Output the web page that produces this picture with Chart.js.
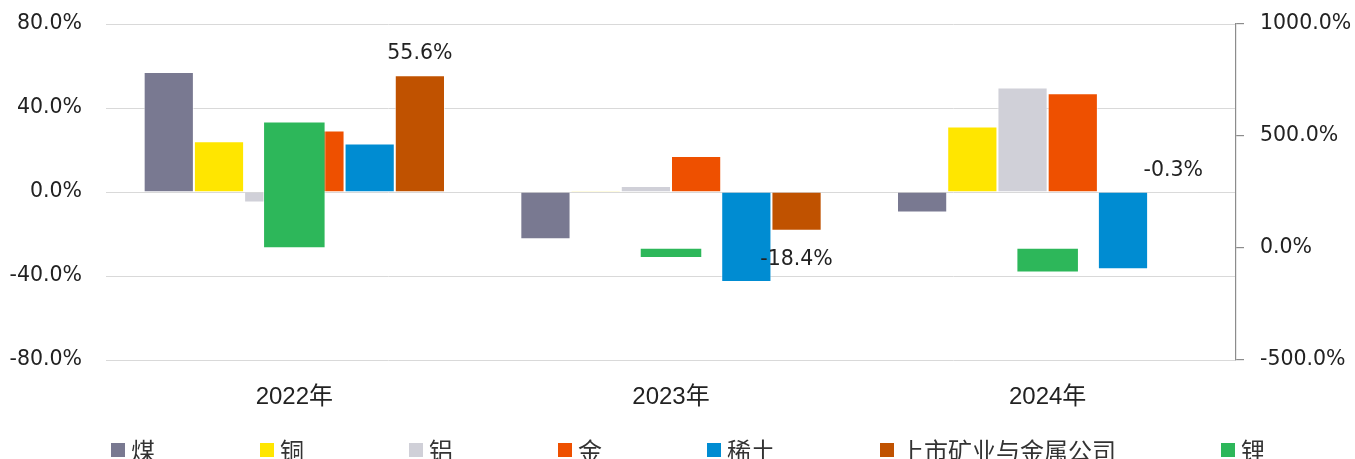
<!DOCTYPE html>
<html>
<head>
<meta charset="utf-8">
<script src="https://cdn.jsdelivr.net/npm/chart.js@4.4.1/dist/chart.umd.min.js"></script>
<style>
  body { margin: 0; background: #fff; }
  #wrap { position: relative; width: 1355px; height: 459px; overflow: hidden; }
  #legend { position: absolute; left: 111px; top: 437px; width: 1400px; display: flex; align-items: center;
            font-family: "Noto Sans CJK SC", sans-serif; font-size: 24px; color: #333; line-height: 26px; }
  #legend .item { display: flex; align-items: center; flex-shrink: 0; margin-right: 105px; white-space: nowrap; }
  #legend .box { width: 14px; height: 14px; margin-right: 6px; flex-shrink: 0; }
</style>
</head>
<body>
<div id="wrap">
  <canvas id="myChart" width="1355" height="459"></canvas>
  <div id="legend"></div>
</div>
<script>
// Categories
var years = ['2022年', '2023年', '2024年'];

// Series (percent) - left axis
var coal = [57.2, -22.5, -9.8];
var copper = [24.2, 0.5, 31.2];
var aluminum = [-5.0, 2.9, 49.8];
var gold = [29.3, 17.1, 47.0];
var rareEarth = [23.1, -42.9, -36.8];
var miners = [55.6, -18.4, -0.3];
// Right axis
var lithium = [565, -45, -109];

// Tick values
var leftTicks = [-80, -40, 0, 40, 80];
var rightTicks = [-500, 0, 500, 1000];

var names = ['煤', '铜', '铝', '金', '稀土', '上市矿业与金属公司', '锂'];
var colors = ['#797991', '#FFE600', '#D0D0D8', '#EE5000', '#008CD2', '#C05200', '#2DB75A'];

var leftSeries = [coal, copper, aluminum, gold, rareEarth, miners];

var datasets = leftSeries.map(function(vals, i) {
    return {
        label: names[i],
        data: vals,
        backgroundColor: colors[i],
        borderColor: 'rgba(255,255,255,0.6)',
        borderWidth: 1,
        yAxisID: 'y',
        categoryPercentage: 0.8,
        barPercentage: 1.0,
        order: 1
    };
});
// lithium sits centred on its own, on the right axis, drawn on top
datasets.push({
    label: names[6],
    data: lithium,
    backgroundColor: colors[6],
    borderColor: 'rgba(255,255,255,0.6)',
    borderWidth: 1,
    yAxisID: 'y1',
    grouped: false,
    categoryPercentage: 1.0,
    barPercentage: 0.166,
    order: 0
});

// Value labels on the miners series
var valueLabels = {
    id: 'valueLabels',
    afterDatasetsDraw: function(chart) {
        var meta = chart.getDatasetMeta(5);
        var ctx = chart.ctx;
        ctx.save();
        ctx.font = '20.5px "DejaVu Sans"';
        ctx.fillStyle = '#222';
        ctx.textAlign = 'center';
        ctx.textBaseline = 'alphabetic';
        meta.data.forEach(function(bar, i) {
            var v = miners[i];
            var top = Math.min(bar.y, bar.base);
            var bottom = Math.max(bar.y, bar.base);
            var y = v < -1 ? bottom + 34 : top - 16.5;
            ctx.fillText(v.toFixed(1) + '%', bar.x, y);
        });
        ctx.restore();
    }
};

var tickFont = { family: 'DejaVu Sans', size: 20.5 };

// keep the tick padding from pushing the plot area down
function trimPad(scale) {
    scale.paddingTop = 12;
    scale.paddingBottom = 12;
}

var ctx = document.getElementById('myChart').getContext('2d');
var myChart = new Chart(ctx, {
    type: 'bar',
    data: { labels: years, datasets: datasets },
    options: {
        responsive: false,
        animation: false,
        devicePixelRatio: 1,
        layout: { padding: { top: 24, bottom: 49, left: 0, right: 0 } },
        plugins: { legend: { display: false }, tooltip: { enabled: false } },
        scales: {
            x: {
                grid: { display: false, drawTicks: false },
                border: { display: false },
                ticks: {
                    color: '#222',
                    padding: 23,
                    font: { family: '"Liberation Sans", "Noto Sans CJK SC"', size: 24 }
                },
                afterFit: function(scale) { scale.height = 50; }
            },
            y: {
                position: 'left',
                min: -80,
                max: 80,
                afterBuildTicks: function(scale) {
                    scale.ticks = leftTicks.map(function(v) { return { value: v }; });
                },
                grid: { color: '#d9d9d9', lineWidth: 1, drawTicks: false },
                border: { display: false },
                ticks: {
                    color: '#222',
                    padding: 24,
                    font: tickFont,
                    callback: function(v) { return v.toFixed(1) + '%'; }
                },
                afterFit: function(scale) { scale.width = 106; trimPad(scale); }
            },
            y1: {
                position: 'right',
                min: -500,
                max: 1000,
                afterBuildTicks: function(scale) {
                    scale.ticks = rightTicks.map(function(v) { return { value: v }; });
                },
                grid: { drawOnChartArea: false, drawTicks: true, tickLength: 8, color: '#8c8c8c', lineWidth: 1.2 },
                border: { display: true, color: '#8c8c8c', width: 1.2 },
                ticks: {
                    color: '#222',
                    padding: 16,
                    font: tickFont,
                    callback: function(v) { return v.toFixed(1) + '%'; }
                },
                afterFit: function(scale) { scale.width = 119; trimPad(scale); }
            }
        }
    },
    plugins: [valueLabels]
});

// Legend built from the same names/colours
var legend = document.getElementById('legend');
names.forEach(function(name, i) {
    var item = document.createElement('div');
    item.className = 'item';
    var box = document.createElement('span');
    box.className = 'box';
    box.style.background = colors[i];
    var txt = document.createElement('span');
    txt.textContent = name;
    item.appendChild(box);
    item.appendChild(txt);
    legend.appendChild(item);
});
</script>
</body>
</html>
